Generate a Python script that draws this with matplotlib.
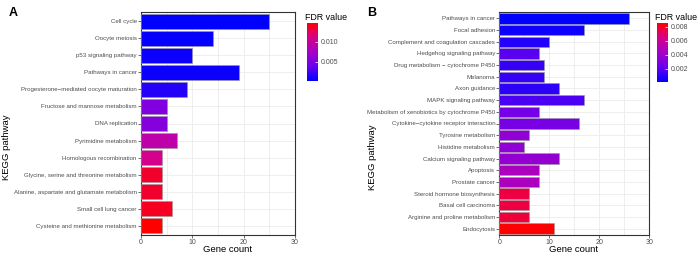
import numpy as np
import matplotlib
matplotlib.use("Agg")
import matplotlib.pyplot as plt
from matplotlib.colors import LinearSegmentedColormap, Normalize
from matplotlib.cm import ScalarMappable

plt.rcParams["font.family"] = ["Liberation Sans", "DejaVu Sans"]

# panel A
paths_a = ["Cell cycle", "Oocyte meiosis", "p53 signaling pathway", "Pathways in cancer",
           "Progesterone\u2212mediated oocyte maturation", "Fructose and mannose metabolism",
           "DNA replication", "Pyrimidine metabolism", "Homologous recombination",
           "Glycine, serine and threonine metabolism", "Alanine, aspartate and glutamate metabolism",
           "Small cell lung cancer", "Cysteine and methionine metabolism"]
count_a = [25, 14, 10, 19, 9, 5, 5, 7, 4, 4, 4, 6, 4]
fdr_a = [0.0002, 0.0004, 0.0006, 0.0006, 0.0015, 0.0052, 0.0054, 0.0092, 0.0110, 0.0135, 0.0135, 0.0138, 0.0147]
ticks_a = [0.005, 0.010]

# panel B
paths_b = ["Pathways in cancer", "Focal adhesion", "Complement and coagulation cascades",
           "Hedgehog signaling pathway", "Drug metabolism \u2212 cytochrome P450", "Melanoma",
           "Axon guidance", "MAPK signaling pathway", "Metabolism of xenobiotics by cytochrome P450",
           "Cytokine\u2212cytokine receptor interaction", "Tyrosine metabolism", "Histidine metabolism",
           "Calcium signaling pathway", "Apoptosis", "Prostate cancer", "Steroid hormone biosynthesis",
           "Basal cell carcinoma", "Arginine and proline metabolism", "Endocytosis"]
count_b = [26, 17, 10, 8, 9, 9, 12, 17, 8, 16, 6, 5, 12, 8, 8, 6, 6, 6, 11]
fdr_b = [0.0001, 0.0004, 0.0008, 0.0019, 0.0012, 0.0012, 0.0010, 0.0016, 0.0026, 0.0027,
         0.0036, 0.0036, 0.0037, 0.0046, 0.0046, 0.0076, 0.0076, 0.0077, 0.0086]
ticks_b = [0.002, 0.004, 0.006, 0.008]

cmap = LinearSegmentedColormap.from_list(
    "br", [(0, "#0000FF"), (0.25, "#6A00EE"), (0.5, "#A600C6"), (0.75, "#D6008A"), (1, "#FF0000")])

W, H = 700, 264
fig = plt.figure(figsize=(7, 2.64), dpi=100)


def panel(rect, cbrect, names, counts, fdr, cticks, letter, letter_x, ylab_xy, xlab_x, cb_title_x):
    ax = fig.add_axes(rect)
    n = len(names)
    y = np.arange(n)[::-1]
    norm = Normalize(min(fdr), max(fdr))
    ax.barh(y, counts, height=0.9, color=cmap(norm(fdr)), edgecolor="#999999", linewidth=0.4, zorder=3)
    ax.set_xlim(0, 30)
    ax.set_ylim(-0.55, n - 0.45)
    ax.set_yticks(y)
    ax.set_yticklabels(names, fontsize=4.4, color="#4D4D4D")
    ax.set_xticks([0, 10, 20, 30])
    ax.set_xticks([5, 15, 25], minor=True)
    ax.tick_params(axis="x", labelsize=5, labelcolor="#4D4D4D", length=2, width=0.5, color="#333333", pad=1)
    ax.tick_params(axis="y", length=2, width=0.5, color="#333333", pad=1)
    ax.tick_params(which="minor", length=0)
    ax.grid(True, which="both", color="#EBEBEB", linewidth=0.6, zorder=0)
    for s in ax.spines.values():
        s.set_color("#333333")
        s.set_linewidth(0.8)
    fig.text(xlab_x / W, 1 - 250 / H, "Gene count", fontsize=6.8, ha="center", va="center")
    fig.text(ylab_xy[0] / W, 1 - ylab_xy[1] / H, "KEGG pathway", rotation=90, fontsize=6.8,
             ha="center", va="center")
    fig.text(letter_x / W, 0.95, letter, fontsize=9, fontweight="bold", ha="left", va="center")

    cax = fig.add_axes(cbrect)
    cb = fig.colorbar(ScalarMappable(norm=norm, cmap=cmap), cax=cax, ticks=cticks)
    cb.outline.set_visible(False)
    cb.ax.tick_params(labelsize=5, labelcolor="#4D4D4D", length=2.5, width=0.5, color="#FFFFFF",
                      direction="in", pad=2)
    cb.ax.set_yticklabels(["%.3f" % t for t in cticks])
    fig.text(cb_title_x / W, 0.935, "FDR value", fontsize=6.4, ha="left", va="center")
    return ax


panel([141 / W, 1 - 235 / H, 154 / W, 223 / H],
      [307 / W, 1 - 81 / H, 11 / W, 58.3 / H],
      paths_a, count_a, fdr_a, ticks_a, "A", 9, (7, 147), 228, 305)
panel([499.3 / W, 1 - 235 / H, 150 / W, 223 / H],
      [657.3 / W, 1 - 81.7 / H, 11 / W, 59 / H],
      paths_b, count_b, fdr_b, ticks_b, "B", 367, (372, 157), 574, 655)

fig.savefig("out.png", dpi=100)
